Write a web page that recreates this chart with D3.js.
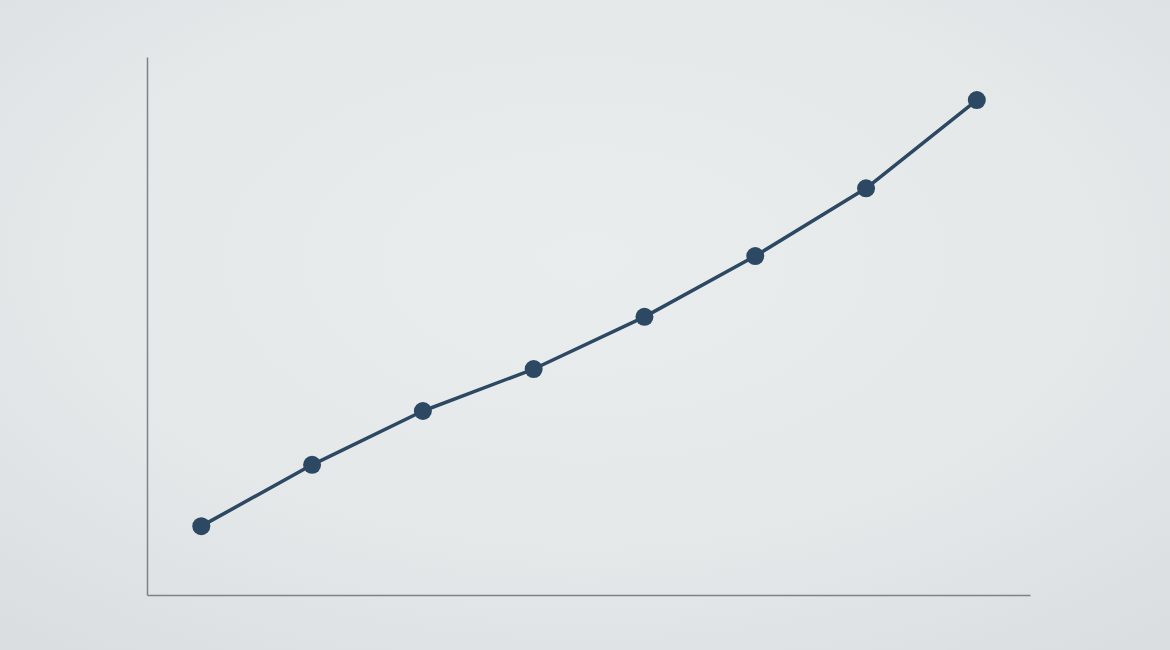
<!DOCTYPE html>
<html><head><meta charset="utf-8">
<script src="https://cdn.jsdelivr.net/npm/d3@7"></script>
<style>html,body{margin:0;padding:0;overflow:hidden;background:#e4e7e9;}</style>
</head><body>
<script>
const categories = [1, 2, 3, 4, 5, 6, 7, 8];
const values = [12.8, 24.2, 34.2, 42.0, 51.7, 63.0, 75.6, 92.0];

const W = 1170, H = 650;
const svg = d3.select("body").append("svg").attr("width", W).attr("height", H);
const defs = svg.append("defs");
const rg = defs.append("radialGradient").attr("id", "bg").attr("cx", "50%").attr("cy", "40%").attr("r", "75%");
rg.append("stop").attr("offset", "0%").attr("stop-color", "#eaedee");
rg.append("stop").attr("offset", "60%").attr("stop-color", "#e5e8e9");
rg.append("stop").attr("offset", "100%").attr("stop-color", "#dadee1");
svg.append("rect").attr("width", W).attr("height", H).attr("fill", "url(#bg)");

const x = d3.scaleLinear().domain([0.51, 8.48]).range([147, 1030]);
const y = d3.scaleLinear().domain([0, 100]).range([595, 57]);

const axisColor = "#7d8286";
const xAxis = svg.append("g").attr("transform", `translate(0,${y(0)})`)
  .call(d3.axisBottom(x).tickValues([]).tickSizeOuter(0));
const yAxis = svg.append("g").attr("transform", `translate(${x(0.51)},0)`)
  .call(d3.axisLeft(y).tickValues([]).tickSizeOuter(0));
[xAxis, yAxis].forEach(a => a.select(".domain").attr("stroke", axisColor).attr("stroke-width", 1.5));

const data = categories.map((c, i) => ({c, v: values[i]}));
svg.append("path").datum(data)
  .attr("fill", "none").attr("stroke", "#2c4862").attr("stroke-width", 3.5)
  .attr("stroke-linejoin", "round")
  .attr("d", d3.line().x(d => x(d.c)).y(d => y(d.v)));
svg.selectAll("circle.pt").data(data).join("circle").attr("class", "pt")
  .attr("cx", d => x(d.c)).attr("cy", d => y(d.v)).attr("r", 9)
  .attr("fill", "#2c4862");
</script>
</body></html>
